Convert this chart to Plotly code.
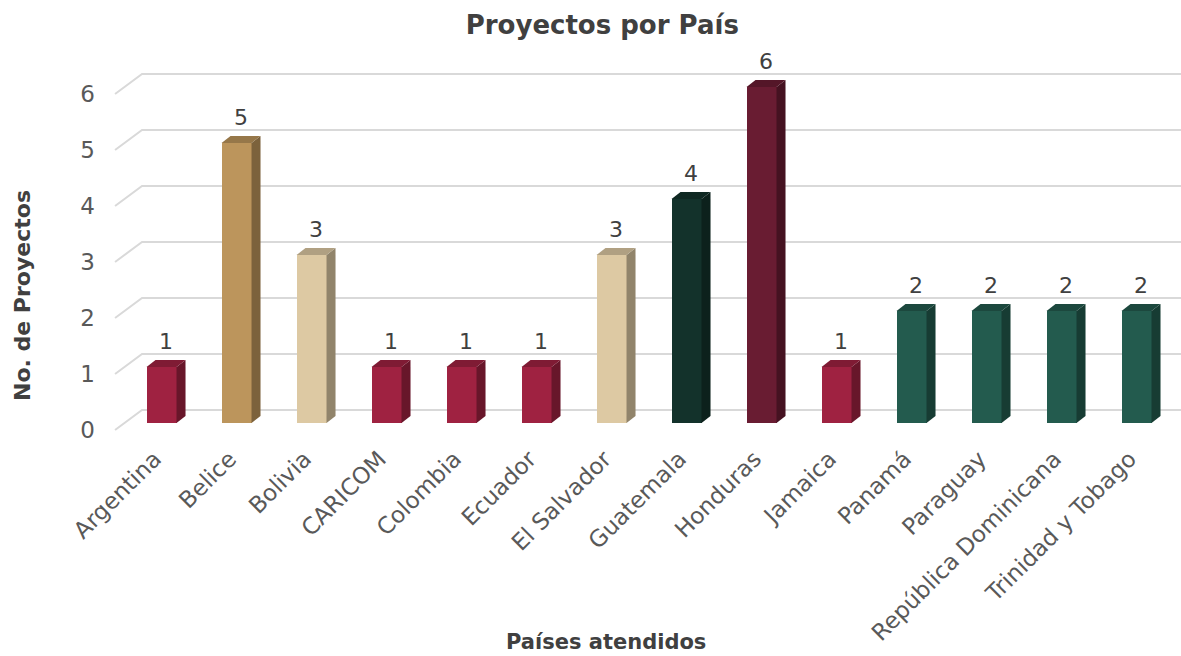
import plotly.graph_objects as go

# ---- data ----
paises = ["Argentina", "Belice", "Bolivia", "CARICOM", "Colombia", "Ecuador",
          "El Salvador", "Guatemala", "Honduras", "Jamaica", "Panamá", "Paraguay",
          "República Dominicana", "Trinidad y Tobago"]
proyectos = [1, 5, 3, 1, 1, 1, 3, 4, 6, 1, 2, 2, 2, 2]
colores = ["#9F2241", "#BC955C", "#DDC9A3", "#9F2241", "#9F2241", "#9F2241",
           "#DDC9A3", "#13322B", "#691C32", "#9F2241", "#235B4E", "#235B4E",
           "#235B4E", "#235B4E"]
y_ticks = [0, 1, 2, 3, 4, 5, 6]

# ---- style constants (3D look) ----
FONT = "DejaVu Sans"
BAR_W = 0.4      # front-face width (category units)
DX, DY = 0.12, 0.125   # bar depth offset
FRONT_X, FRONT_DY = -0.62, -0.125   # front edge of wall/floor
BACK_X, BACK_DY = -0.26, 0.232      # back wall
X_RANGE = [-0.687, 13.593]
Y_RANGE = [-0.304, 6.482]


def shade(hexc, f):
    h = hexc.lstrip("#")
    r, g, b = (int(h[i:i + 2], 16) for i in (0, 2, 4))
    return "#%02x%02x%02x" % (int(r * f), int(g * f), int(b * f))


fig = go.Figure()

# gridlines (below all traces): slanted floor/wall piece + back wall line
shapes = []
for v in y_ticks:
    shapes.append(dict(
        type="path", xref="x", yref="y", layer="below",
        path=f"M {FRONT_X},{v + FRONT_DY} L {BACK_X},{v + BACK_DY} L {X_RANGE[1]},{v + BACK_DY}",
        line=dict(color="#d9d9d9", width=2)))

# front faces
xs = list(range(len(paises)))
fig.add_trace(go.Bar(x=xs, y=proyectos, width=BAR_W,
                     marker=dict(color=colores, line=dict(width=0)),
                     hoverinfo="skip", showlegend=False))

# side and top faces
for i, (v, c) in enumerate(zip(proyectos, colores)):
    r = i + BAR_W / 2
    l = i - BAR_W / 2
    fig.add_trace(go.Scatter(
        x=[r, r + DX, r + DX, r, r], y=[0, DY, v + DY, v, 0],
        fill="toself", fillcolor=shade(c, 0.66), mode="lines",
        line=dict(width=0, color=shade(c, 0.66)), hoverinfo="skip", showlegend=False))
    fig.add_trace(go.Scatter(
        x=[l, r, r + DX, l + DX, l], y=[v, v, v + DY, v + DY, v],
        fill="toself", fillcolor=shade(c, 0.8), mode="lines",
        line=dict(width=0, color=shade(c, 0.8)), hoverinfo="skip", showlegend=False))

# value labels
fig.add_trace(go.Scatter(
    x=[i + DX / 2 for i in xs], y=[v + DY + 0.1 for v in proyectos],
    text=[str(v) for v in proyectos], mode="text", textposition="top center",
    textfont=dict(family=FONT, size=22, color="#404040"), cliponaxis=False,
    hoverinfo="skip", showlegend=False))

fig.update_layout(
    width=1181, height=656,
    margin=dict(l=110, r=0, t=60, b=216),
    paper_bgcolor="white", plot_bgcolor="white",
    font=dict(family=FONT, color="#595959"),
    shapes=shapes,
    title=dict(text="<b>Proyectos por País</b>", x=0.51, xanchor="center",
               y=1 - 25 / 656, yanchor="middle",
               font=dict(family=FONT, size=26, color="#404040")),
    xaxis=dict(range=X_RANGE, tickvals=xs, ticktext=paises, tickangle=-45,
               showgrid=False, zeroline=False, showline=False, ticks="",
               automargin=False, ticklabelshift=-7,
               tickfont=dict(family=FONT, size=23, color="#595959")),
    yaxis=dict(range=Y_RANGE, tickvals=[v + FRONT_DY for v in y_ticks],
               ticktext=[str(v) for v in y_ticks], showgrid=False, zeroline=False,
               showline=False, ticks="", ticklabelstandoff=14, automargin=False,
               tickfont=dict(family=FONT, size=23, color="#595959")),
    annotations=[
        dict(text="<b>No. de Proyectos</b>", xref="paper", yref="paper",
             x=(22 - 110) / 1071, y=(440 - 296) / 380, textangle=-90,
             showarrow=False, xanchor="center", yanchor="middle",
             font=dict(family=FONT, size=22, color="#404040")),
        dict(text="<b>Países atendidos</b>", xref="paper", yref="paper",
             x=(606 - 110) / 1071, y=(440 - 642) / 380,
             showarrow=False, xanchor="center", yanchor="middle",
             font=dict(family=FONT, size=21, color="#404040")),
    ],
    bargap=0,
)

fig.write_html("out.html", config={"displayModeBar": False},
               post_script="document.body.style.margin='0';")
